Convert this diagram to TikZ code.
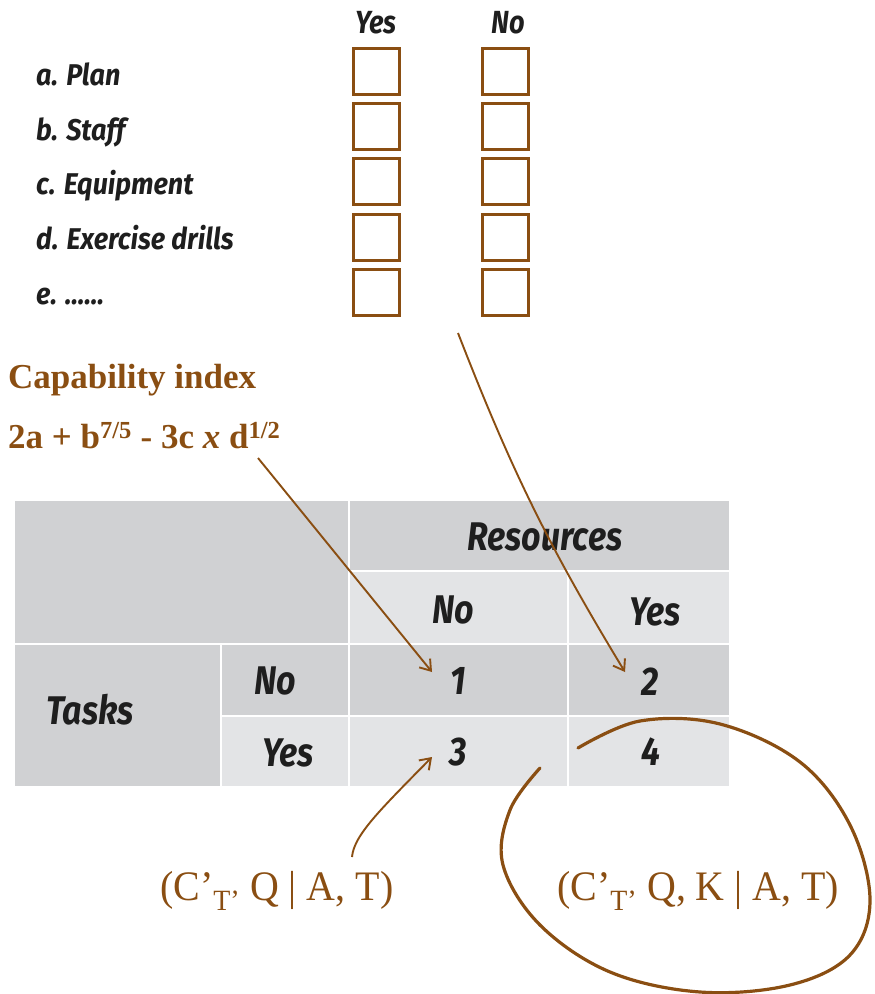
\documentclass[tikz,border=0pt]{standalone}
\usepackage{fontspec}
\setmainfont{Liberation Serif}
\newfontfamily\hand{Fira Sans}
\usetikzlibrary{arrows.meta}
\definecolor{brn}{RGB}{138,78,18}
\definecolor{gD}{RGB}{208,209,211}
\definecolor{gL}{RGB}{227,228,230}
\definecolor{ink}{RGB}{30,30,30}
\newcommand\hw[2]{\scalebox{#1}[1]{#2}}
\tikzset{
  cellD/.style={fill=gD, draw=white, line width=2pt, inner sep=0pt, outer sep=0pt},
  cellL/.style={fill=gL, draw=white, line width=2pt, inner sep=0pt, outer sep=0pt},
  tbtxt/.style={font=\hand\bfseries\itshape\fontsize{40}{40}\selectfont, text=ink, inner sep=0pt},
  cktxt/.style={font=\hand\bfseries\itshape\fontsize{30}{30}\selectfont, text=ink, inner sep=0pt, anchor=base west},
  hdtxt/.style={font=\hand\bfseries\itshape\fontsize{32}{32}\selectfont, text=ink, inner sep=0pt, anchor=base},
  chkbox/.style={draw=brn, line width=3pt, minimum width=46pt, minimum height=46pt, inner sep=0pt},
  brtxt/.style={text=brn, inner sep=0pt, anchor=base west},
  arr/.style={draw=brn, line width=1.9pt, -{Straight Barb[length=10pt,width=14pt]}},
}
\begin{document}
\begin{tikzpicture}[x=1pt,y=-1pt]
\useasboundingbox (0,0) rectangle (875,994);
% checklist header
\node[hdtxt] (hyes) at (376,33) {\hw{0.85}{Yes}};
\node[hdtxt] (hno) at (508,33) {\hw{0.85}{No}};
% checklist labels
\node[cktxt] (la) at (36,85) {\hw{0.9}{a. Plan}};
\node[cktxt] (lb) at (36,140) {\hw{0.9}{b. Staff}};
\node[cktxt] (lc) at (36,194) {\hw{0.9}{c. Equipment}};
\node[cktxt] (ld) at (36,249) {\hw{0.9}{d. Exercise drills}};
\node[cktxt] (le) at (36,304) {\hw{0.9}{e. ......}};
% boxes
\foreach \i/\y in {1/71,2/126.5,3/181.5,4/237,5/292.5}{
  \node[chkbox] (y\i) at (376,\y) {};
  \node[chkbox] (n\i) at (505,\y) {};
}
% capability index
\node[brtxt, font=\bfseries\fontsize{35}{35}\selectfont] (cap) at (8,388) {Capability index};
\node[brtxt, font=\bfseries\fontsize{35}{35}\selectfont] (fml) at (8,448) {2a + b\textsuperscript{7/5} - 3c \textit{x} d\textsuperscript{1/2}};
% table cells
\node[cellD, minimum width=335pt, minimum height=144pt] (tl) at (181.5,572) {};
\node[cellD, minimum width=381pt, minimum height=71pt] (res) at (539.5,535.5) {};
\node[cellL, minimum width=219pt, minimum height=73pt] (sno) at (458.5,607.5) {};
\node[cellL, minimum width=162pt, minimum height=73pt] (syes) at (649,607.5) {};
\node[cellD, minimum width=207pt, minimum height=143pt] (tasks) at (117.5,715.5) {};
\node[cellD, minimum width=128pt, minimum height=72pt] (rno) at (285,680) {};
\node[cellL, minimum width=128pt, minimum height=71pt] (ryes) at (285,751.5) {};
\node[cellD, minimum width=219pt, minimum height=72pt] (c1) at (458.5,680) {};
\node[cellD, minimum width=162pt, minimum height=72pt] (c2) at (649,680) {};
\node[cellL, minimum width=219pt, minimum height=71pt] (c3) at (458.5,751.5) {};
\node[cellL, minimum width=162pt, minimum height=71pt] (c4) at (649,751.5) {};
% table texts
\node[tbtxt] (tres) at (545,537) {\hw{0.85}{Resources}};
\node[tbtxt] (tsno) at (453,610) {\hw{0.85}{No}};
\node[tbtxt] (tsyes) at (655,612) {\hw{0.85}{Yes}};
\node[tbtxt] (ttasks) at (90,710) {\hw{0.85}{Tasks}};
\node[tbtxt] (trno) at (275,681) {\hw{0.85}{No}};
\node[tbtxt] (tryes) at (288,753) {\hw{0.85}{Yes}};
\node[tbtxt] (t1) at (458,681) {\hw{0.85}{1}};
\node[tbtxt] (t2) at (650,682) {\hw{0.85}{2}};
\node[tbtxt] (t3) at (458,752) {\hw{0.85}{3}};
\node[tbtxt] (t4) at (651,752) {\hw{0.85}{4}};
% bottom formulas
\node[brtxt, font=\fontsize{42}{42}\selectfont] (fa) at (160,900) {\hw{0.95}{(C’\textsubscript{T’} Q | A, T)}};
\node[brtxt, font=\fontsize{42}{42}\selectfont] (fb) at (557,900) {\hw{0.95}{(C’\textsubscript{T’} Q, K | A, T)}};
% arrows
\coordinate (a1s) at (258,458);
\coordinate (a1e) at (432,672);
\coordinate (a2s) at (458,333);
\coordinate (a2e) at (625,672);
\coordinate (a3s) at (352,857);
\coordinate (a3e) at (432,757);
\draw[arr] (a1s) -- (a1e);
\draw[arr] (a2s) to[bend right=5] (a2e);
\draw[arr] (a3s) .. controls (354,835) and (380,810) .. (a3e);
% loop around right formula
\draw[brn, line width=3.2pt, line cap=round] plot[smooth, tension=0.6] coordinates {(578,748) (640,721) (720,724) (800,762) (850,825) (870,900) (850,955) (790,985) (700,992) (610,972) (540,925) (503,865) (510,810) (540,768)};
\end{tikzpicture}
\end{document}
